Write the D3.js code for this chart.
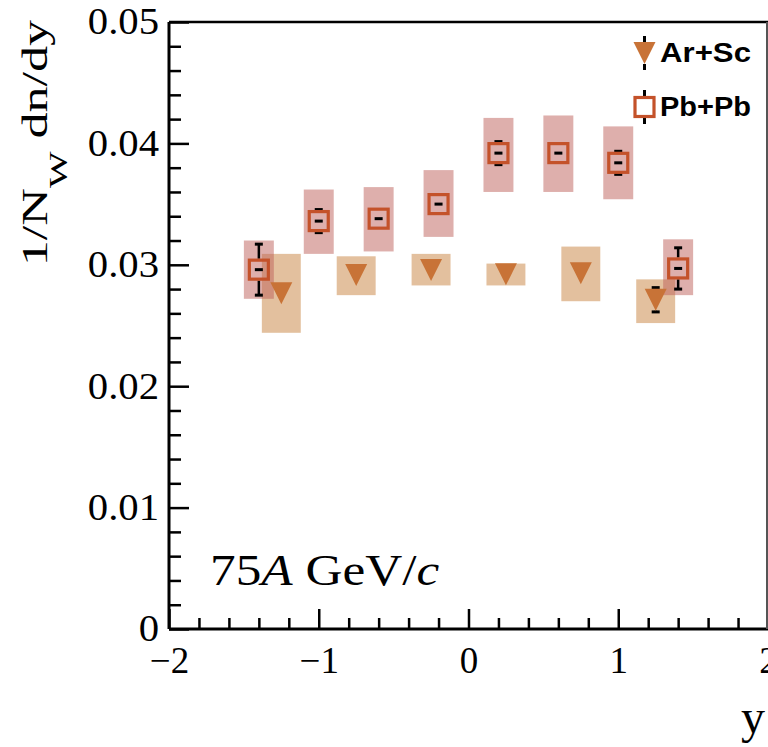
<!DOCTYPE html>
<html>
<head>
<meta charset="utf-8">
<script src="https://cdn.jsdelivr.net/npm/d3@7"></script>
<style>
  html, body { margin: 0; padding: 0; background: #ffffff; }
  svg { display: block; }
</style>
</head>
<body>
<svg id="chart" width="768" height="747"></svg>
<script>
// Rapidity bins and yields, Pb+Pb
const pbRapidity = [-1.4, -1.0, -0.6, -0.2, 0.2, 0.6, 1.0, 1.4];
const pbYield    = [0.0296, 0.0336, 0.0338, 0.0350, 0.0392, 0.0392, 0.0384, 0.0297];
const pbStat     = [0.0021, 0.00095, 0.0007, 0.0007, 0.00095, 0.0007, 0.00095, 0.0017];
const pbSysLow   = [0.0272, 0.0309, 0.0311, 0.0323, 0.0360, 0.0360, 0.0354, 0.0275];
const pbSysHigh  = [0.0320, 0.0362, 0.0364, 0.0378, 0.0421, 0.0423, 0.0414, 0.0321];
const pbBinHalf  = 0.1;

// Rapidity bins and yields, Ar+Sc
const arRapidity = [-1.25, -0.75, -0.25, 0.25, 0.75, 1.25];
const arYield    = [0.02766, 0.02916, 0.02958, 0.02922, 0.0293, 0.02712];
const arStat     = [0.0007, 0.0007, 0.0007, 0.0007, 0.0007, 0.001];
const arSysLow   = [0.0244, 0.0275, 0.0283, 0.0283, 0.0270, 0.0252];
const arSysHigh  = [0.0309, 0.0307, 0.0309, 0.0301, 0.0315, 0.0288];
const arBinHalf  = 0.13;

// Axis ticks
const xMajorTicks = [-2, -1, 0, 1, 2];
const yMajorTicks = [0, 0.01, 0.02, 0.03, 0.04, 0.05];
const xMinorStep = 0.2;
const yMinorStep = 0.002;

const legendLabels = ["Ar+Sc", "Pb+Pb"];

const svg = d3.select("#chart");
const W = 768, H = 747;
const margin = { left: 169, right: 0, top: 22, bottom: 118 };

const x = d3.scaleLinear().domain([-2, 2]).range([margin.left, W - margin.right]);
const y = d3.scaleLinear().domain([0, 0.05]).range([H - margin.bottom, margin.top]);

const serif = "'Liberation Serif', 'Times New Roman', serif";
const sans = "'Liberation Sans', Arial, sans-serif";

const colors = {
  pbBox: "rgba(190, 95, 90, 0.5)",
  arBox: "rgba(200, 130, 62, 0.5)",
  pbMarker: "#c4522a",
  arMarker: "#c87337"
};

// Build series records
const pb = pbRapidity.map((r, i) => ({ x: r, y: pbYield[i], e: pbStat[i], lo: pbSysLow[i], hi: pbSysHigh[i] }));
const ar = arRapidity.map((r, i) => ({ x: r, y: arYield[i], e: arStat[i], lo: arSysLow[i], hi: arSysHigh[i] }));

// Systematic uncertainty boxes
svg.append("g").selectAll("rect").data(ar).join("rect")
  .attr("x", d => x(d.x - arBinHalf))
  .attr("width", d => x(d.x + arBinHalf) - x(d.x - arBinHalf))
  .attr("y", d => y(d.hi))
  .attr("height", d => y(d.lo) - y(d.hi))
  .attr("fill", colors.arBox);

svg.append("g").selectAll("rect").data(pb).join("rect")
  .attr("x", d => x(d.x - pbBinHalf))
  .attr("width", d => x(d.x + pbBinHalf) - x(d.x - pbBinHalf))
  .attr("y", d => y(d.hi))
  .attr("height", d => y(d.lo) - y(d.hi))
  .attr("fill", colors.pbBox);

// Statistical error bars drawn outside the marker, with caps
const triSize = 22;
const sqSize = 19;
function errorBar(g, cx, cy, top, bottom, half) {
  if (cy - top <= half) return;
  g.append("line").attr("x1", cx).attr("x2", cx).attr("y1", top).attr("y2", cy - half).attr("stroke-width", 2.5);
  g.append("line").attr("x1", cx).attr("x2", cx).attr("y1", cy + half).attr("y2", bottom).attr("stroke-width", 2.5);
  g.append("line").attr("x1", cx - 4).attr("x2", cx + 4).attr("y1", top).attr("y2", top).attr("stroke-width", 3);
  g.append("line").attr("x1", cx - 4).attr("x2", cx + 4).attr("y1", bottom).attr("y2", bottom).attr("stroke-width", 3);
}

// Markers
const triPath = `M${-triSize / 2},${-triSize / 2}L${triSize / 2},${-triSize / 2}L0,${triSize / 2}Z`;
function drawTriangle(g, cx, cy) {
  g.append("path").attr("d", triPath)
    .attr("transform", `translate(${cx},${cy})`)
    .attr("fill", colors.arMarker);
}
function drawSquare(g, cx, cy, withDash = true) {
  g.append("rect")
    .attr("x", cx - sqSize / 2).attr("y", cy - sqSize / 2)
    .attr("width", sqSize).attr("height", sqSize)
    .attr("fill", withDash ? "none" : "#fff")
    .attr("stroke", colors.pbMarker)
    .attr("stroke-width", 3.2);
  if (withDash) {
    g.append("rect")
      .attr("x", cx - 4).attr("y", cy - 1.5)
      .attr("width", 8).attr("height", 3)
      .attr("fill", "#000");
  }
}

const errG = svg.append("g").attr("stroke", "#000");
ar.forEach(d => errorBar(errG, x(d.x), y(d.y), y(d.y + d.e), y(d.y - d.e), triSize / 2));
pb.forEach(d => errorBar(errG, x(d.x), y(d.y), y(d.y + d.e), y(d.y - d.e), sqSize / 2 + 1.4));

const arMarks = svg.append("g");
ar.forEach(d => drawTriangle(arMarks, x(d.x), y(d.y)));
const pbMarks = svg.append("g");
pb.forEach(d => drawSquare(pbMarks, x(d.x), y(d.y)));

// Axes
function range(a, b, step) {
  const out = [];
  const n = Math.round((b - a) / step);
  for (let i = 0; i <= n; i++) out.push(+(a + i * step).toFixed(6));
  return out;
}
const xMinor = range(-2, 2, xMinorStep).filter(v => !xMajorTicks.some(t => Math.abs(t - v) < 1e-9));
const yMinor = range(0, 0.05, yMinorStep).filter(v => !yMajorTicks.some(t => Math.abs(t - v) < 1e-9));

const xAxisG = svg.append("g").attr("transform", `translate(0,${y(0)})`);
xAxisG.call(d3.axisBottom(x).tickValues(xMinor).tickSize(-11).tickFormat(""));
xAxisG.call(g => g.select(".domain").remove());
const xAxisMajor = svg.append("g").attr("transform", `translate(0,${y(0)})`)
  .call(d3.axisBottom(x).tickValues(xMajorTicks).tickSize(-20).tickPadding(18).tickFormat(d3.format("d")));
xAxisMajor.select(".domain").remove();

const yAxisG = svg.append("g").attr("transform", `translate(${x(-2)},0)`);
yAxisG.call(d3.axisLeft(y).tickValues(yMinor).tickSize(-12).tickFormat(""));
yAxisG.call(g => g.select(".domain").remove());
const yAxisMajor = svg.append("g").attr("transform", `translate(${x(-2)},0)`)
  .call(d3.axisLeft(y).tickValues(yMajorTicks).tickSize(-20).tickPadding(10)
    .tickFormat(d => d === 0 ? "0" : d3.format(".2f")(d)));
yAxisMajor.select(".domain").remove();

svg.selectAll(".tick line").attr("stroke", "#000").attr("stroke-width", 2.5);
svg.selectAll(".tick text")
  .attr("font-family", serif)
  .attr("font-size", 37)
  .attr("fill", "#000");
// Slightly widened tick label glyphs
yAxisMajor.selectAll(".tick text").each(function () {
  const t = d3.select(this);
  const xx = +t.attr("x");
  t.attr("x", xx / 1.1).attr("transform", "scale(1.1,1)");
});

// Frame
const frame = svg.append("g").attr("fill", "none").attr("stroke", "#000");
frame.append("line").attr("x1", x(-2)).attr("x2", x(2)).attr("y1", y(0)).attr("y2", y(0)).attr("stroke-width", 3);
frame.append("line").attr("x1", x(-2)).attr("x2", x(-2)).attr("y1", y(0.05)).attr("y2", y(0)).attr("stroke-width", 3);
frame.append("line").attr("x1", x(-2)).attr("x2", x(2)).attr("y1", y(0.05)).attr("y2", y(0.05)).attr("stroke-width", 2.5);
frame.append("line").attr("x1", x(2) - 1).attr("x2", x(2) - 1).attr("y1", y(0.05)).attr("y2", y(0)).attr("stroke-width", 2).attr("stroke", "#555");

// Text stretched to a given width along its own direction
function fitText(g, target) {
  const node = g.select("text").node();
  const w = node.getBBox().width;
  g.select("text").attr("transform", `scale(${target / w},1)`);
}

// Y axis title
const yTitle = svg.append("g").attr("transform", "translate(47,20) rotate(-90)");
const yt = yTitle.append("text")
  .attr("text-anchor", "end")
  .attr("font-family", serif).attr("font-size", 35).attr("fill", "#000");
yt.append("tspan").text("1/N");
yt.append("tspan").attr("font-size", 26).attr("dy", 20).text("W");
yt.append("tspan").attr("dy", -20).text(" dn/dy");
fitText(yTitle, 247);

// X axis title
svg.append("text")
  .attr("x", 741).attr("y", 733)
  .attr("font-family", serif).attr("font-size", 48).attr("fill", "#000")
  .text("y");

// Energy label
const eLabel = svg.append("g").attr("transform", "translate(210,585)");
const et = eLabel.append("text").attr("font-family", serif).attr("font-size", 44).attr("fill", "#000");
et.append("tspan").text("75");
et.append("tspan").attr("font-style", "italic").text("A");
et.append("tspan").text(" GeV/");
et.append("tspan").attr("font-style", "italic").text("c");
fitText(eLabel, 230);

// Legend
const legend = svg.append("g");
const legendRows = [
  { label: legendLabels[0], cy: 53, half: triSize / 2, draw: (g, cx, cy) => drawTriangle(g, cx, cy) },
  { label: legendLabels[1], cy: 107, half: sqSize / 2 + 1.5, draw: (g, cx, cy) => drawSquare(g, cx, cy, false) }
];
legendRows.forEach(r => {
  const g = legend.append("g").attr("stroke", "#000");
  const cx = 644.5;
  // short error-bar stubs above and below the marker
  g.append("line").attr("x1", cx).attr("x2", cx).attr("y1", r.cy - r.half - 6).attr("y2", r.cy - r.half)
    .attr("stroke-width", 3);
  g.append("line").attr("x1", cx).attr("x2", cx).attr("y1", r.cy + r.half).attr("y2", r.cy + r.half + 6)
    .attr("stroke-width", 3);
  r.draw(legend.append("g"), cx, r.cy);
  const tg = legend.append("g").attr("transform", `translate(660,${r.cy + 9})`);
  tg.append("text")
    .attr("font-family", sans).attr("font-weight", "bold").attr("font-size", 28).attr("fill", "#000")
    .text(r.label);
  fitText(tg, 91);
});
</script>
</body>
</html>
